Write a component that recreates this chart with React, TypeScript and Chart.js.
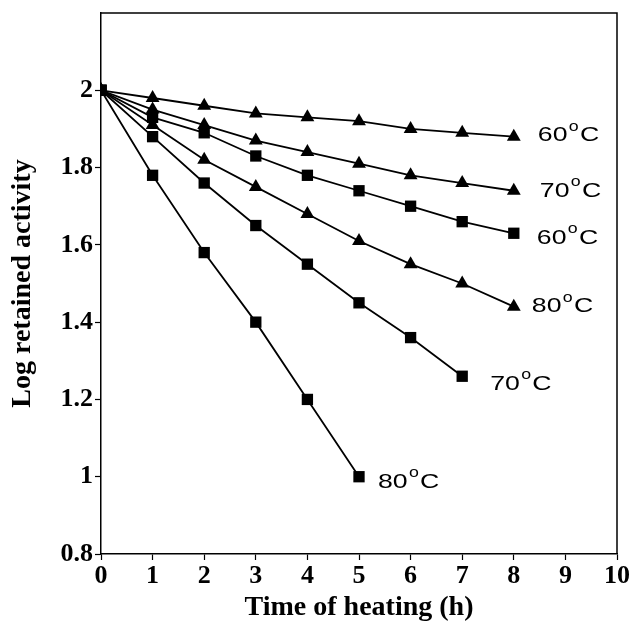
import React, { useEffect, useRef } from "react";
import { Chart, registerables } from "chart.js";

Chart.register(...registerables);

const hours = [0, 1, 2, 3, 4, 5, 6, 7, 8];
const tri60 = [2.0, 1.98, 1.96, 1.94, 1.93, 1.92, 1.9, 1.89, 1.88];
const tri70 = [2.0, 1.95, 1.91, 1.87, 1.84, 1.81, 1.78, 1.76, 1.74];
const sq60 = [2.0, 1.93, 1.89, 1.83, 1.78, 1.74, 1.7, 1.66, 1.63];
const tri80 = [2.0, 1.91, 1.82, 1.75, 1.68, 1.61, 1.55, 1.5, 1.44];
const sq70 = [2.0, 1.88, 1.76, 1.65, 1.55, 1.45, 1.36, 1.26];
const sq80 = [2.0, 1.78, 1.58, 1.4, 1.2, 1.0];
const seriesLabels = ["60", "70", "60", "80", "70", "80"];
const xTickLabels = ["0", "1", "2", "3", "4", "5", "6", "7", "8", "9", "10"];
const yTickLabels = ["0.8", "1", "1.2", "1.4", "1.6", "1.8", "2"];

const toPts = (arr: number[]) => arr.map((y, i) => ({ x: hours[i], y }));

const SERIF = "'Liberation Serif', 'Times New Roman', serif";
const SANS = "'Liberation Sans', Arial, sans-serif";

export default function App() {
  const ref = useRef<HTMLCanvasElement>(null);
  useEffect(() => {
    document.body.style.margin = "0";
    const canvas = ref.current!;
    const series = [
      { d: tri60, s: "triangle" },
      { d: tri70, s: "triangle" },
      { d: sq60, s: "rect" },
      { d: tri80, s: "triangle" },
      { d: sq70, s: "rect" },
      { d: sq80, s: "rect" },
    ];
    const dxs = [24, 26, 23, 18, 28, 19];
    const dys = [-1, 0, 5, 0, 8, 5];
    const labelPlugin = {
      id: "labels",
      afterDatasetsDraw(chart: any) {
        const ctx = chart.ctx;
        const xs = chart.scales.x;
        const ys = chart.scales.y;
        ctx.save();
        ctx.fillStyle = "#000";
        ctx.textBaseline = "middle";
        series.forEach((s, i) => {
          const lastI = s.d.length - 1;
          const px = xs.getPixelForValue(hours[lastI]) + dxs[i];
          const py = ys.getPixelForValue(s.d[lastI]) + dys[i];
          ctx.save();
          ctx.translate(px, py);
          ctx.scale(1.27, 1);
          ctx.font = "21px " + SANS;
          const t = seriesLabels[i];
          ctx.fillText(t, 0, 0);
          let w = ctx.measureText(t).width + 1;
          ctx.font = "14px " + SANS;
          ctx.fillText("o", w, -9);
          w += ctx.measureText("o").width + 1;
          ctx.font = "21px " + SANS;
          ctx.fillText("C", w, 0);
          ctx.restore();
        });
        const a = chart.chartArea;
        ctx.strokeStyle = "#000";
        ctx.lineWidth = 1.5;
        ctx.beginPath();
        ctx.moveTo(a.left, a.top);
        ctx.lineTo(a.right, a.top);
        ctx.lineTo(a.right, a.bottom);
        ctx.stroke();
        ctx.restore();
      },
    };
    const chart = new Chart(canvas, {
      type: "line",
      data: {
        datasets: series.map((s) => ({
          data: toPts(s.d),
          borderColor: "#000",
          backgroundColor: "#000",
          borderWidth: 1.8,
          pointStyle: s.s as any,
          pointRadius: 8,
          pointBorderWidth: 0,
          fill: false,
          tension: 0,
        })),
      },
      options: {
        animation: false,
        responsive: false,
        layout: { padding: { top: 13, right: 17, left: 0, bottom: 0 } },
        plugins: { legend: { display: false }, tooltip: { enabled: false } },
        scales: {
          x: {
            type: "linear",
            min: 0,
            max: 10,
            afterBuildTicks: (sc: any) => {
              sc.ticks = xTickLabels.map((v) => ({ value: Number(v) }));
            },
            ticks: {
              color: "#000",
              font: { family: SERIF, size: 26, weight: "bold" },
              padding: 1,
              callback: (v: any) => String(v),
            },
            grid: { drawOnChartArea: false, tickLength: 6, color: "#000", tickWidth: 1.2 },
            border: { color: "#000", width: 1.5 },
            title: {
              display: true,
              text: "Time of heating (h)",
              color: "#000",
              font: { family: SERIF, size: 28, weight: "bold" },
              padding: { top: 0, bottom: 0 },
            },
            afterFit: (sc: any) => {
              sc.height = 71;
              sc.paddingLeft = 0;
              sc.paddingRight = 0;
            },
          },
          y: {
            type: "linear",
            min: 0.8,
            max: 2.2,
            afterBuildTicks: (sc: any) => {
              sc.ticks = yTickLabels.map((v) => ({ value: Number(v) }));
            },
            ticks: {
              color: "#000",
              font: { family: SERIF, size: 26, weight: "bold" },
              padding: 2,
              callback: (v: any) => String(Math.round(v * 10) / 10),
            },
            grid: { drawOnChartArea: false, tickLength: 6, color: "#000", tickWidth: 1.2 },
            border: { color: "#000", width: 1.5 },
            title: {
              display: true,
              text: "Log retained activity",
              color: "#000",
              font: { family: SERIF, size: 28, weight: "bold" },
              padding: { top: 6, bottom: 0 },
            },
            afterFit: (sc: any) => {
              sc.width = 101;
              sc.paddingTop = 0;
              sc.paddingBottom = 0;
            },
          },
        },
      },
      plugins: [labelPlugin],
    });
    return () => chart.destroy();
  }, []);
  return <canvas ref={ref} width={634} height={625} style={{ display: "block" }} />;
}
